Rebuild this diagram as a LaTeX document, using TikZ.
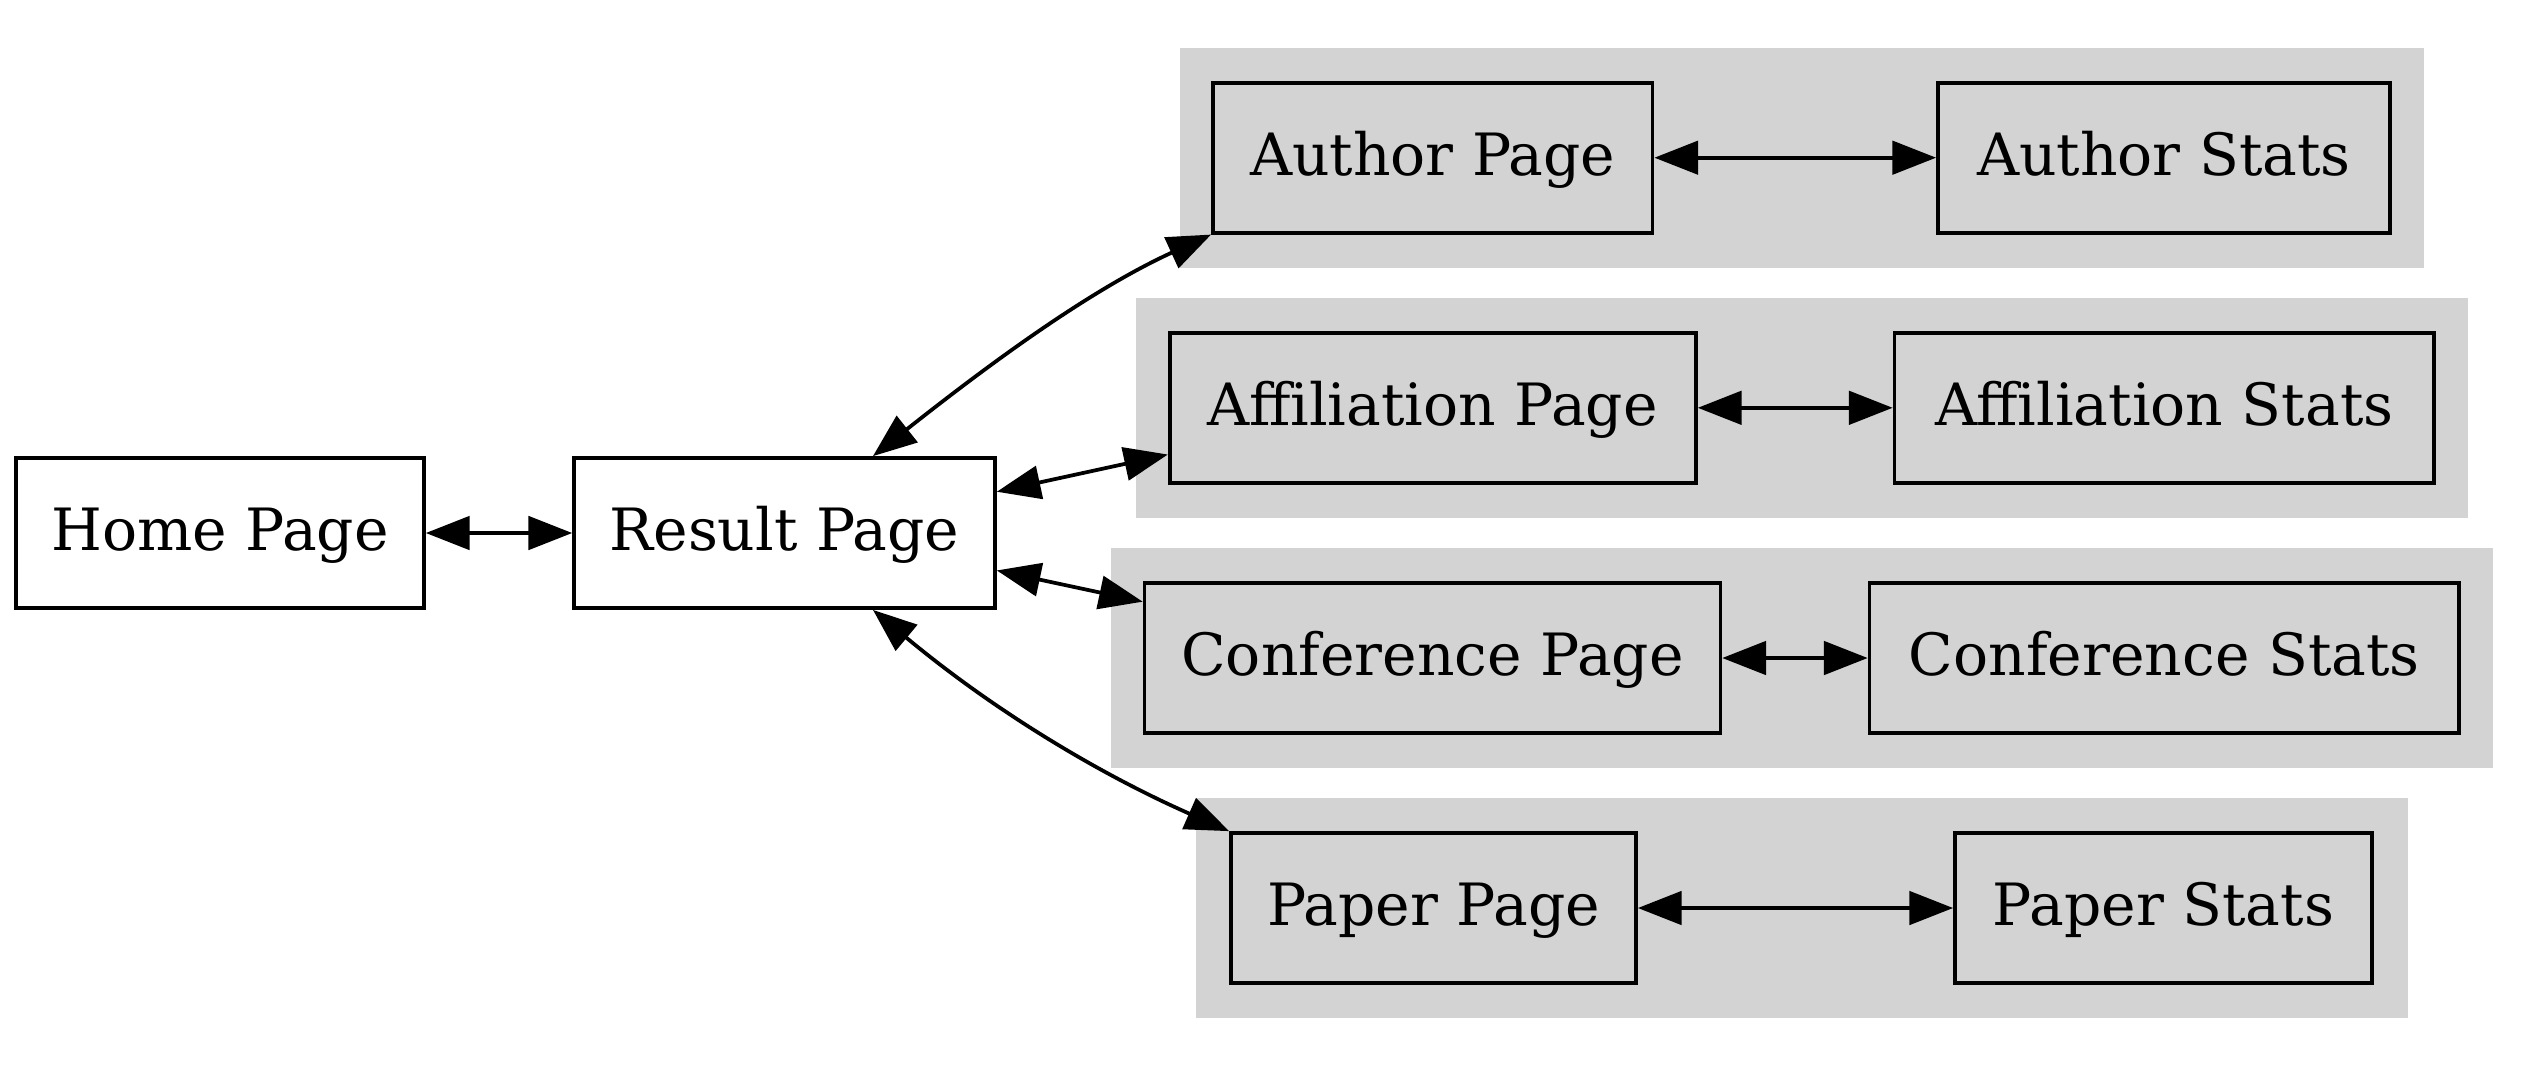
\documentclass[tikz,border=0pt]{standalone}
\usepackage{fontspec}
\setmainfont{DejaVu Serif}
\usetikzlibrary{arrows.meta}
\definecolor{clustergray}{RGB}{211,211,211}
\begin{document}
\begin{tikzpicture}[x=0.24pt,y=-0.24pt,
  pagebox/.style={draw, line width=0.9pt, minimum height=36pt, inner sep=0pt,
    text height=10.5pt, text depth=2.2pt,
    font=\fontsize{14pt}{16pt}\selectfont},
  cluster/.style={fill=clustergray, draw=none},
  link/.style={line width=0.9pt,
    {Triangle[length=10.5pt,width=8pt]}-{Triangle[length=10.5pt,width=8pt]}}]
\useasboundingbox (0,0) rectangle (2542,1067);
% clusters
\fill[cluster] (1179.5,48) rectangle (2424,268);
\fill[cluster] (1136,298) rectangle (2468,518);
\fill[cluster] (1111,548) rectangle (2493,768);
\fill[cluster] (1196,798) rectangle (2407.5,1018);
% nodes
\node[pagebox, minimum width=97.9pt] (home) at (220,533) {Home Page};
\node[pagebox, minimum width=101pt] (res) at (784.5,533) {Result Page};
\node[pagebox, minimum width=105.5pt] (aut) at (1432.75,157.7) {Author Page};
\node[pagebox, minimum width=108.5pt] (auts) at (2164,157.7) {Author Stats};
\node[pagebox, minimum width=126.3pt] (aff) at (1432.8,407.8) {Affiliation Page};
\node[pagebox, minimum width=129.5pt] (affs) at (2164.3,407.8) {Affiliation Stats};
\node[pagebox, minimum width=138.2pt] (conf) at (1432.5,658) {Conference Page};
\node[pagebox, minimum width=141.5pt] (confs) at (2164.3,658) {Conference Stats};
\node[pagebox, minimum width=97.2pt] (pap) at (1433.5,908) {Paper Page};
\node[pagebox, minimum width=100.1pt] (paps) at (2163.5,908) {Paper Stats};
% edges
\draw[link] (home.east) -- (res.west);
\draw[link] (res.41.9) .. controls +(120,-95) and +(-120,55) .. (aut.south west);
\draw[link] (res.11.1) -- (aff.190.8);
\draw[link] (res.-10.8) -- (conf.169.1);
\draw[link] (res.-41.9) .. controls +(125,104) and +(-125,-55) .. (pap.north west);
\draw[link] (aut.east) -- (auts.west);
\draw[link] (aff.east) -- (affs.west);
\draw[link] (conf.east) -- (confs.west);
\draw[link] (pap.east) -- (paps.west);
\end{tikzpicture}
\end{document}
